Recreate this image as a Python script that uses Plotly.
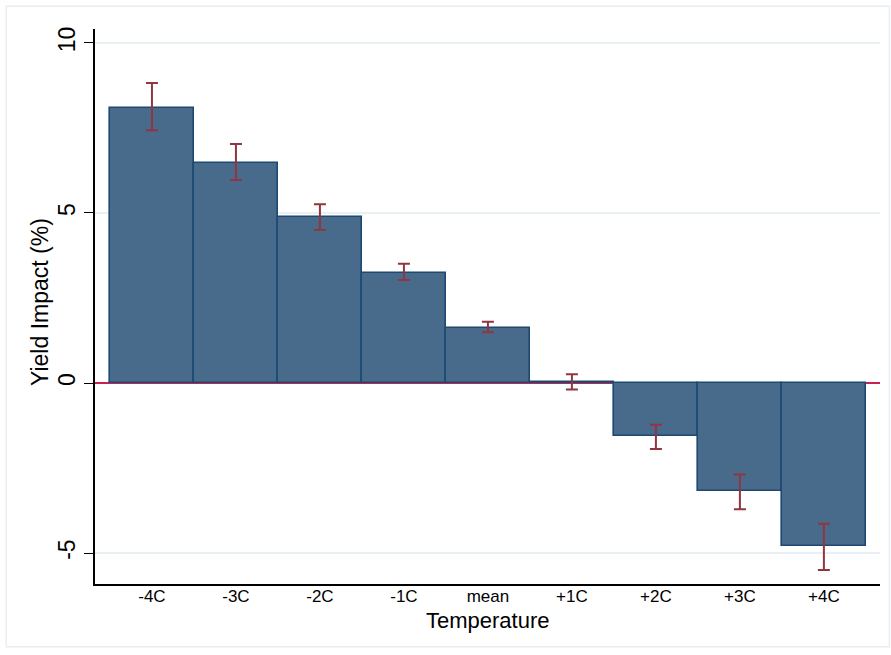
import plotly.graph_objects as go

categories = ["-4C", "-3C", "-2C", "-1C", "mean", "+1C", "+2C", "+3C", "+4C"]
impact = [8.10, 6.48, 4.87, 3.24, 1.63, 0.02, -1.57, -3.18, -4.79]
upper = [8.82, 7.03, 5.26, 3.51, 1.80, 0.26, -1.23, -2.69, -4.14]
lower = [7.43, 5.97, 4.50, 3.03, 1.49, -0.19, -1.94, -3.71, -5.50]
y_ticks = [-5, 0, 5, 10]

err_plus = [u - v for u, v in zip(upper, impact)]
err_minus = [v - l for v, l in zip(impact, lower)]

FONT = "Liberation Sans, Arial, sans-serif"

fig = go.Figure()
fig.add_trace(go.Bar(
    x=categories,
    y=impact,
    marker=dict(color="#486a8b", line=dict(color="#1c4a72", width=1.6)),
    error_y=dict(type="data", symmetric=False, array=err_plus, arrayminus=err_minus,
                 color="#913540", thickness=2, width=6),
    showlegend=False,
))

fig.update_layout(
    width=891, height=655,
    margin=dict(l=95, r=11, t=29, b=71),
    paper_bgcolor="white", plot_bgcolor="white",
    bargap=0,
    font=dict(family=FONT, color="black"),
    xaxis=dict(
        type="category",
        range=[-0.678, 8.668],
        showgrid=False,
        showline=True, linecolor="black", linewidth=1.5,
        ticks="",
        ticklabelstandoff=-4,
        tickfont=dict(size=17, family=FONT),
        zeroline=False,
    ),
    yaxis=dict(
        range=[-5.91, 10.41],
        tickvals=y_ticks,
        ticktext=[str(t) for t in y_ticks],
        tickangle=-90,
        tickfont=dict(size=23, family=FONT),
        ticks="outside", ticklen=9, tickwidth=1.2, tickcolor="black",
        showline=True, linecolor="black", linewidth=1.5,
        showgrid=True, gridcolor="#e9f0f3", gridwidth=1.5,
        zeroline=True, zerolinecolor="#c8234e", zerolinewidth=1.6,
    ),
    annotations=[
        dict(text="Temperature", xref="paper", yref="paper",
             x=0.5, y=-0.065, xanchor="center", yanchor="middle",
             showarrow=False, font=dict(size=22, family=FONT, color="black")),
        dict(text="Yield Impact (%)", xref="paper", yref="paper",
             x=-0.0701, y=0.508, xanchor="center", yanchor="middle", textangle=-90,
             showarrow=False, font=dict(size=23, family=FONT, color="black")),
    ],
    shapes=[dict(type="rect", xref="paper", yref="paper",
                 x0=-0.113, x1=1.012, y0=-0.113, y1=1.041,
                 line=dict(color="#e8eef2", width=1.5), fillcolor="rgba(0,0,0,0)",
                 layer="below")],
)

fig.write_html("out.html")
